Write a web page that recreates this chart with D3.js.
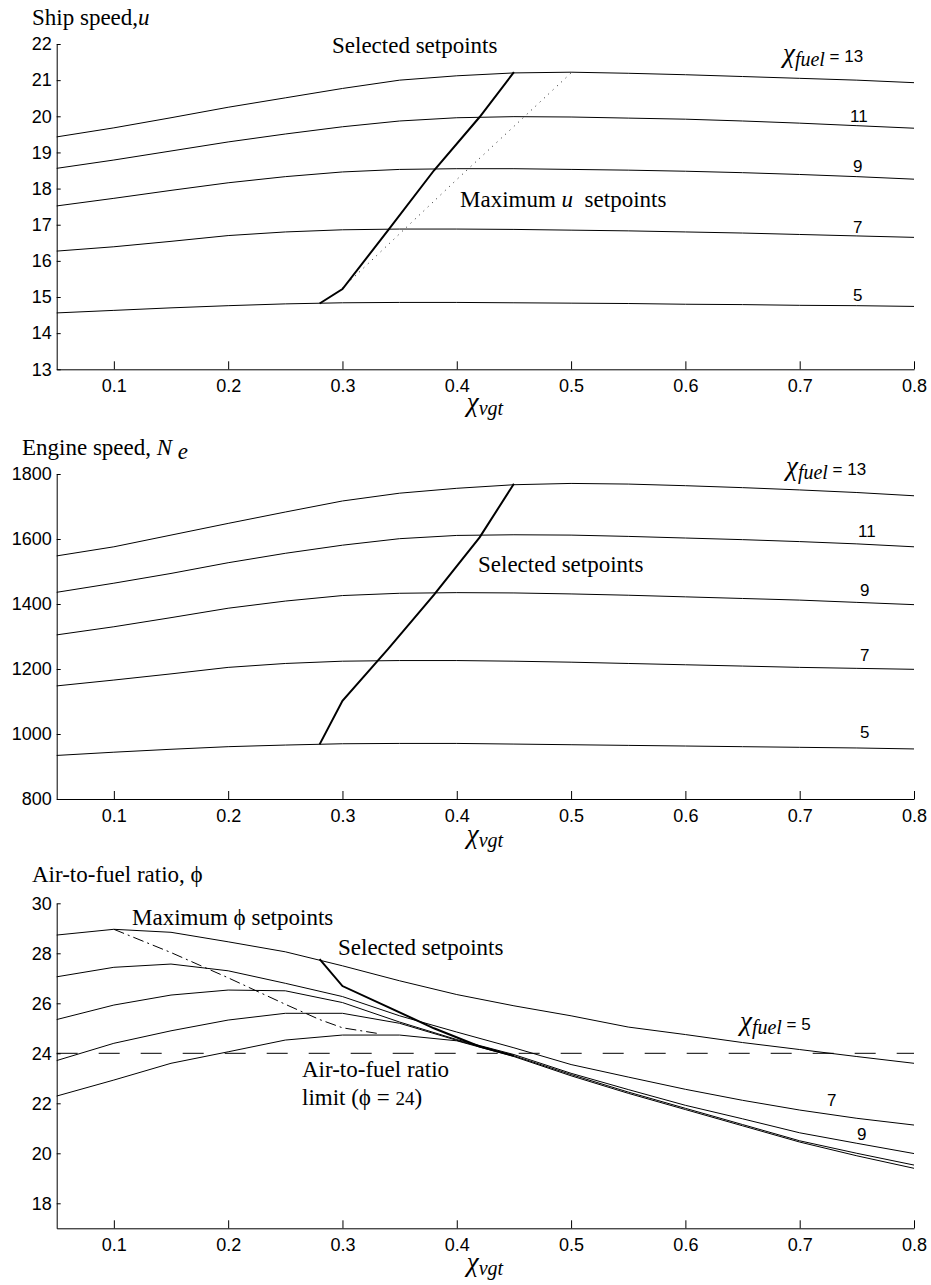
<!DOCTYPE html>
<html>
<head>
<meta charset="utf-8">
<script src="https://cdn.jsdelivr.net/npm/d3@7"></script>
<style>
  body { margin: 0; background: #fff; }
  svg { display: block; }
  .axis path, .axis line { stroke: #000; stroke-width: 1; }
  .axis text { font-family: "Liberation Sans", Arial, sans-serif; font-size: 18px; fill: #000; }
  .serif { font-family: "Liberation Serif", "Times New Roman", serif; font-size: 23px; fill: #000; white-space: pre; }
  .sans { font-family: "Liberation Sans", Arial, sans-serif; font-size: 17px; fill: #000; }
  .curve { fill: none; stroke: #000; stroke-width: 1; }
  .selected { fill: none; stroke: #000; stroke-width: 2; }
</style>
</head>
<body>
<div id="chart"></div>
<script>
// x values (chi_vgt) shared by every curve
const xVgt = [0.05, 0.1, 0.15, 0.2, 0.25, 0.3, 0.35, 0.4, 0.45, 0.5, 0.55, 0.6, 0.65, 0.7, 0.75, 0.8];
const xTicks = [0.1, 0.2, 0.3, 0.4, 0.5, 0.6, 0.7, 0.8];

// ship speed u, one array per chi_fuel
const shipSpeed5  = [14.56, 14.63, 14.70, 14.76, 14.81, 14.84, 14.85, 14.85, 14.84, 14.83, 14.82, 14.80, 14.79, 14.77, 14.76, 14.74];
const shipSpeed7  = [16.27, 16.39, 16.54, 16.70, 16.80, 16.86, 16.88, 16.88, 16.87, 16.85, 16.83, 16.80, 16.77, 16.73, 16.69, 16.65];
const shipSpeed9  = [17.52, 17.73, 17.95, 18.16, 18.33, 18.46, 18.53, 18.55, 18.55, 18.53, 18.51, 18.48, 18.44, 18.39, 18.33, 18.26];
const shipSpeed11 = [18.56, 18.79, 19.04, 19.29, 19.51, 19.71, 19.87, 19.96, 19.99, 19.98, 19.95, 19.92, 19.87, 19.81, 19.74, 19.67];
const shipSpeed13 = [19.43, 19.68, 19.96, 20.25, 20.51, 20.77, 21.00, 21.12, 21.20, 21.22, 21.19, 21.15, 21.10, 21.05, 21.00, 20.93];
const shipSelected = [[0.28, 14.82], [0.30, 15.22], [0.34, 16.85], [0.38, 18.50], [0.42, 19.98], [0.45, 21.22]];
const shipMaximum  = [[0.30, 15.25], [0.35, 16.75], [0.40, 18.25], [0.45, 19.72], [0.50, 21.20]];
const shipTicks = [13, 14, 15, 16, 17, 18, 19, 20, 21, 22];

// engine speed Ne
const engine5  = [934, 944, 953, 961, 966, 970, 971, 971, 969, 967, 965, 963, 961, 959, 957, 954];
const engine7  = [1148, 1166, 1185, 1205, 1217, 1224, 1226, 1226, 1224, 1221, 1217, 1213, 1209, 1205, 1202, 1199];
const engine9  = [1305, 1330, 1358, 1387, 1409, 1426, 1433, 1435, 1434, 1431, 1427, 1422, 1417, 1412, 1405, 1398];
const engine11 = [1436, 1464, 1494, 1527, 1556, 1581, 1601, 1611, 1613, 1612, 1608, 1603, 1598, 1592, 1585, 1576];
const engine13 = [1548, 1576, 1612, 1648, 1683, 1717, 1741, 1756, 1767, 1771, 1769, 1764, 1758, 1751, 1743, 1733];
const engineSelected = [[0.28, 968], [0.30, 1102], [0.34, 1262], [0.38, 1428], [0.42, 1605], [0.45, 1770]];
const engineTicks = [800, 1000, 1200, 1400, 1600, 1800];

// air-to-fuel ratio phi
const afr5  = [28.73, 28.96, 28.84, 28.46, 28.06, 27.50, 26.90, 26.35, 25.90, 25.50, 25.05, 24.75, 24.43, 24.15, 23.87, 23.60];
const afr7  = [27.06, 27.44, 27.57, 27.30, 26.80, 26.27, 25.50, 24.85, 24.22, 23.55, 23.05, 22.56, 22.12, 21.73, 21.40, 21.13];
const afr9  = [25.35, 25.93, 26.33, 26.53, 26.50, 26.03, 25.25, 24.55, 23.95, 23.20, 22.55, 21.92, 21.38, 20.82, 20.40, 19.99];
const afr11 = [23.71, 24.40, 24.90, 25.33, 25.60, 25.60, 25.20, 24.52, 23.90, 23.15, 22.45, 21.80, 21.15, 20.50, 20.00, 19.53];
const afr13 = [22.29, 22.93, 23.60, 24.06, 24.53, 24.73, 24.73, 24.50, 23.87, 23.10, 22.40, 21.75, 21.10, 20.45, 19.90, 19.40];
const afrSelected = [[0.28, 27.77], [0.30, 26.69], [0.34, 25.85], [0.38, 25.00], [0.42, 24.27], [0.45, 23.90]];
const afrMaximum  = [[0.10, 28.96], [0.15, 28.03], [0.20, 27.02], [0.25, 25.96], [0.28, 25.35], [0.30, 25.02], [0.33, 24.80]];
const afrLimit = 24;
const afrTicks = [18, 20, 22, 24, 26, 28, 30];

const W = 931, H = 1285;

const svg = d3.select("#chart").append("svg")
  .attr("width", W)
  .attr("height", H);

const x = d3.scaleLinear().domain([0.05, 0.8]).range([56.7, 914]);

const panels = [
  { domain: [13, 22], range: [369.3, 44], ticks: shipTicks,
    curves: [shipSpeed5, shipSpeed7, shipSpeed9, shipSpeed11, shipSpeed13] },
  { domain: [800, 1800], range: [799, 474], ticks: engineTicks,
    curves: [engine5, engine7, engine9, engine11, engine13] },
  { domain: [17, 30], range: [1228.3, 903.3], ticks: afrTicks,
    curves: [afr5, afr7, afr9, afr11, afr13] }
];

panels.forEach(p => {
  p.y = d3.scaleLinear().domain(p.domain).range(p.range);
  const g = svg.append("g");

  // axes: ticks point into the plot
  g.append("g")
    .attr("class", "axis")
    .attr("transform", `translate(0,${p.range[0]})`)
    .call(d3.axisBottom(x).tickValues(xTicks).tickFormat(d3.format(".1f"))
      .tickSizeInner(-8).tickSizeOuter(0).tickPadding(10));

  g.append("g")
    .attr("class", "axis")
    .attr("transform", `translate(${x.range()[0]},0)`)
    .call(d3.axisLeft(p.y).tickValues(p.ticks).tickFormat(d3.format("d"))
      .tickSizeInner(-4).tickSizeOuter(0).tickPadding(5));

  const line = d3.line().x(d => x(d[0])).y(d => p.y(d[1]));
  p.line = line;

  g.selectAll("path.curve")
    .data(p.curves)
    .enter()
    .append("path")
    .attr("class", "curve")
    .attr("d", vals => line(vals.map((v, i) => [xVgt[i], v])));
});

const [shipPanel, enginePanel, afrPanel] = panels;

// top panel setpoint lines (dotted = maximum u)
svg.append("path").attr("class", "curve")
  .attr("stroke-width", 2.6).attr("stroke-linecap", "round")
  .attr("stroke-dasharray", "0.1,5.8")
  .attr("d", shipPanel.line(shipMaximum));
svg.append("path").attr("class", "selected").attr("d", shipPanel.line(shipSelected));

// middle panel
svg.append("path").attr("class", "selected").attr("d", enginePanel.line(engineSelected));

// bottom panel
svg.append("path").attr("class", "curve")
  .attr("stroke-dasharray", "21,21")
  .attr("d", afrPanel.line(x.domain().map(v => [v, afrLimit])));
svg.append("path").attr("class", "curve")
  .attr("stroke-width", 2).attr("stroke-dasharray", "11,4,2,4")
  .attr("d", afrPanel.line(afrMaximum));
svg.append("path").attr("class", "selected").attr("d", afrPanel.line(afrSelected));

// ---- text helpers
function serifText(px, py, parts) {
  const t = svg.append("text").attr("class", "serif").attr("x", px).attr("y", py);
  parts.forEach(s => {
    const sp = t.append("tspan").text(s.t);
    if (s.i) sp.attr("font-style", "italic");
    if (s.dy) sp.attr("dy", s.dy);
    if (s.size) sp.attr("font-size", s.size);
  });
  return t;
}

function chiLabel(px, py, sub, rest, anchor) {
  const t = svg.append("text").attr("class", "serif").attr("x", px).attr("y", py);
  if (anchor) t.attr("text-anchor", anchor);
  t.append("tspan").attr("font-size", 27).attr("font-style", "italic").text("χ");
  t.append("tspan").attr("font-style", "italic").attr("font-size", 20).attr("dy", 4).text(sub);
  if (rest) {
    t.append("tspan").attr("class", "sans").attr("dy", -4).text(rest);
  }
  return t;
}

function numLabel(px, py, s) {
  svg.append("text").attr("class", "sans").attr("x", px).attr("y", py).text(s);
}

// top panel text
serifText(32, 25, [{ t: "Ship speed," }, { t: "u", i: true }]);
serifText(332, 53, [{ t: "Selected setpoints" }]);
serifText(460, 207, [{ t: "Maximum " }, { t: "u", i: true }, { t: "  setpoints" }]);
chiLabel(783, 62, "fuel", " = 13");
numLabel(850, 122, "11");
numLabel(853, 172, "9");
numLabel(853, 233, "7");
numLabel(853, 301, "5");
chiLabel(485, 411, "vgt", null, "middle");

// middle panel text
serifText(22, 455, [{ t: "Engine speed, " }, { t: "N", i: true }, { t: " " }, { t: "e", i: true, dy: 4 }]);
serifText(478, 572, [{ t: "Selected setpoints" }]);
chiLabel(786, 475, "fuel", " = 13");
numLabel(858, 537, "11");
numLabel(860, 596, "9");
numLabel(860, 661, "7");
numLabel(860, 738, "5");
chiLabel(485, 843, "vgt", null, "middle");

// bottom panel text
serifText(32, 882, [{ t: "Air-to-fuel ratio, ϕ" }]);
serifText(132, 925, [{ t: "Maximum ϕ setpoints" }]);
serifText(338, 955, [{ t: "Selected setpoints" }]);
serifText(302, 1077, [{ t: "Air-to-fuel ratio" }]);
serifText(302, 1105, [{ t: "limit (ϕ = " }, { t: "24", size: 19 }, { t: ")" }]);
chiLabel(740, 1030, "fuel", " = 5");
numLabel(827, 1106, "7");
numLabel(857, 1140, "9");
chiLabel(485, 1271, "vgt", null, "middle");
</script>
</body>
</html>
